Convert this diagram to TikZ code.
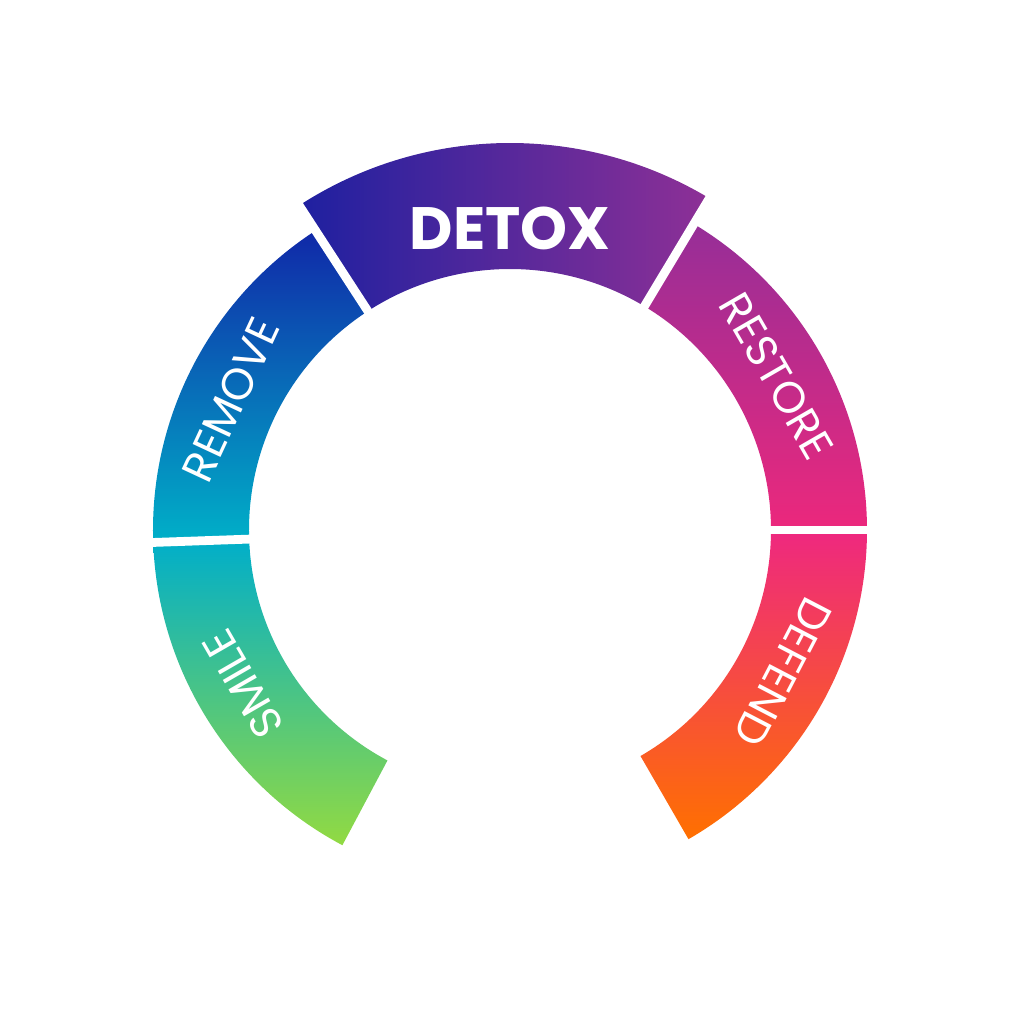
\documentclass[tikz,border=0pt]{standalone}
\usepackage{fontspec}
\setmainfont{Poppins}
\begin{document}
\begin{tikzpicture}
\useasboundingbox (-5.10,-4.94) rectangle (5.14,5.30);
\tikzset{lbl/.style={text=white,font=\fontsize{12.5}{14}\selectfont},
  seg/.style={shading=axis}}
\def\R{3.57}\def\r{2.61}
% SMILE
\shade[top color={rgb,255:red,0;green,174;blue,202},bottom color={rgb,255:red,146;green,218;blue,66}] (242:\R) arc (242:182:\R) -- (182:\r) arc (182:242:\r) -- cycle;
% REMOVE
\shade[shading angle=-30,top color={rgb,255:red,16;green,40;blue,168},bottom color={rgb,255:red,0;green,176;blue,200}] (182:\R) arc (182:123:\R) -- (123:\r) arc (123:182:\r) -- cycle;
% DETOX
\shade[left color={rgb,255:red,30;green,32;blue,160},right color={rgb,255:red,142;green,48;blue,150}] (123:3.87) arc (123:59:3.87) -- (59:\r) arc (59:123:\r) -- cycle;
% RESTORE
\shade[top color={rgb,255:red,150;green,46;blue,152},bottom color={rgb,255:red,236;green,40;blue,124}] (59:\R) arc (59:0:\R) -- (0:\r) arc (0:59:\r) -- cycle;
% DEFEND
\shade[shading angle=20,top color={rgb,255:red,238;green,40;blue,128},bottom color={rgb,255:red,255;green,112;blue,0}] (0:\R) arc (0:-60:\R) -- (-60:\r) arc (-60:0:\r) -- cycle;
% separators
\foreach \a in {182,123,59,0} \draw[white,line width=2.5pt] (\a:2.5) -- (\a:3.95);
\node[lbl,rotate=120] (smile) at (210:3.08) {SMILE};
\node[lbl,rotate=65] (remove) at (155:3.08) {REMOVE};
\node[lbl,rotate=-60] (restore) at (30:3.08) {RESTORE};
\node[lbl,rotate=-117.5] (defend) at (-27.5:3.08) {DEFEND};
\node[text=white,font=\fontsize{17}{20}\selectfont\bfseries] (detox) at (90:3.02) {DETOX};
\end{tikzpicture}
\end{document}
